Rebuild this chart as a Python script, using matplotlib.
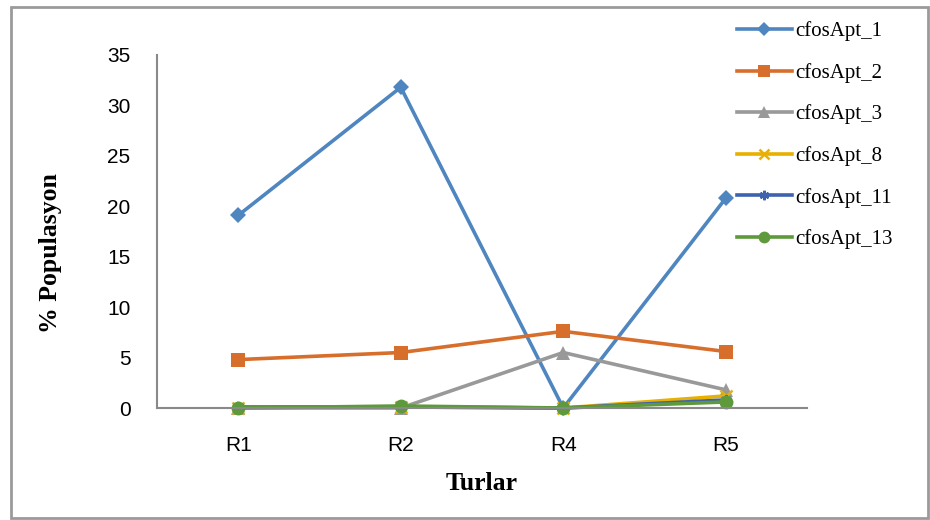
import matplotlib
matplotlib.use("Agg")
import matplotlib.pyplot as plt
from matplotlib.patches import Rectangle

categories = ["R1", "R2", "R4", "R5"]
series_names = ["cfosApt_1", "cfosApt_2", "cfosApt_3", "cfosApt_8", "cfosApt_11", "cfosApt_13"]
apt1 = [19.1, 31.8, 0.0, 20.8]
apt2 = [4.8, 5.5, 7.6, 5.6]
apt3 = [0.0, 0.0, 5.5, 1.8]
apt8 = [0.0, 0.1, 0.0, 1.2]
apt11 = [0.1, 0.1, 0.0, 0.8]
apt13 = [0.0, 0.2, 0.0, 0.6]
yticks = [0, 5, 10, 15, 20, 25, 30, 35]

values = [apt1, apt2, apt3, apt8, apt11, apt13]
colors = ["#4F86C0", "#D86E2C", "#999999", "#E8B000", "#3D62B0", "#5E9A3C"]
markers = ["D", "s", "^", "x", (6, 2, 0), "o"]
msizes = [8, 10, 10, 9, 8, 10]

fig = plt.figure(figsize=(9.3, 5.2), dpi=100)
ax = fig.add_axes([157/930, 1-408/520, (807-157)/930, (408-55)/520])

x = list(range(len(categories)))
for name, vals, c, m, ms in zip(series_names, values, colors, markers, msizes):
    kw = dict(markeredgewidth=1.8) if m in ("x", (6, 2, 0)) else dict(markeredgewidth=0)
    ax.plot(x, vals, color=c, lw=2.6, marker=m, markersize=ms, label=name,
            markerfacecolor=c, markeredgecolor=c, clip_on=False, **kw)

ax.set_xlim(-0.5, 3.5)
ax.set_ylim(0, 35)
ax.set_xticks(x)
ax.set_xticklabels(categories)
ax.set_yticks(yticks)
for s in ["top", "right"]:
    ax.spines[s].set_visible(False)
for s in ["left", "bottom"]:
    ax.spines[s].set_color("#898989")
    ax.spines[s].set_linewidth(1.5)
ax.tick_params(axis="both", length=0, labelsize=15)
for lab in ax.get_xticklabels() + ax.get_yticklabels():
    lab.set_family("Liberation Sans")
ax.tick_params(axis="y", pad=19)
ax.tick_params(axis="x", pad=20)

ax.set_xlabel("Turlar", family="Liberation Serif", fontweight="bold", fontsize=18.5)
ax.xaxis.set_label_coords(0.5, (408-483)/353)
ax.xaxis.label.set_va("center")
ax.set_ylabel("% Populasyon", family="Liberation Serif", fontweight="bold", fontsize=18.5)
ax.yaxis.set_label_coords((50-157)/650, (408-253)/353)
ax.yaxis.label.set_va("center")

leg = fig.legend(loc="upper left", bbox_to_anchor=(729/930, 1-13/520), frameon=False,
                 prop={"family": "Liberation Serif", "size": 15}, handlelength=2.6,
                 labelspacing=1.04, handletextpad=0.2, borderaxespad=0, markerscale=0.85)

fig.patches.append(Rectangle((11/930, 2/520), 917/930, 511/520, transform=fig.transFigure,
                             fill=False, edgecolor="#9a9a9a", linewidth=2))

fig.savefig("out.png", dpi=100)
